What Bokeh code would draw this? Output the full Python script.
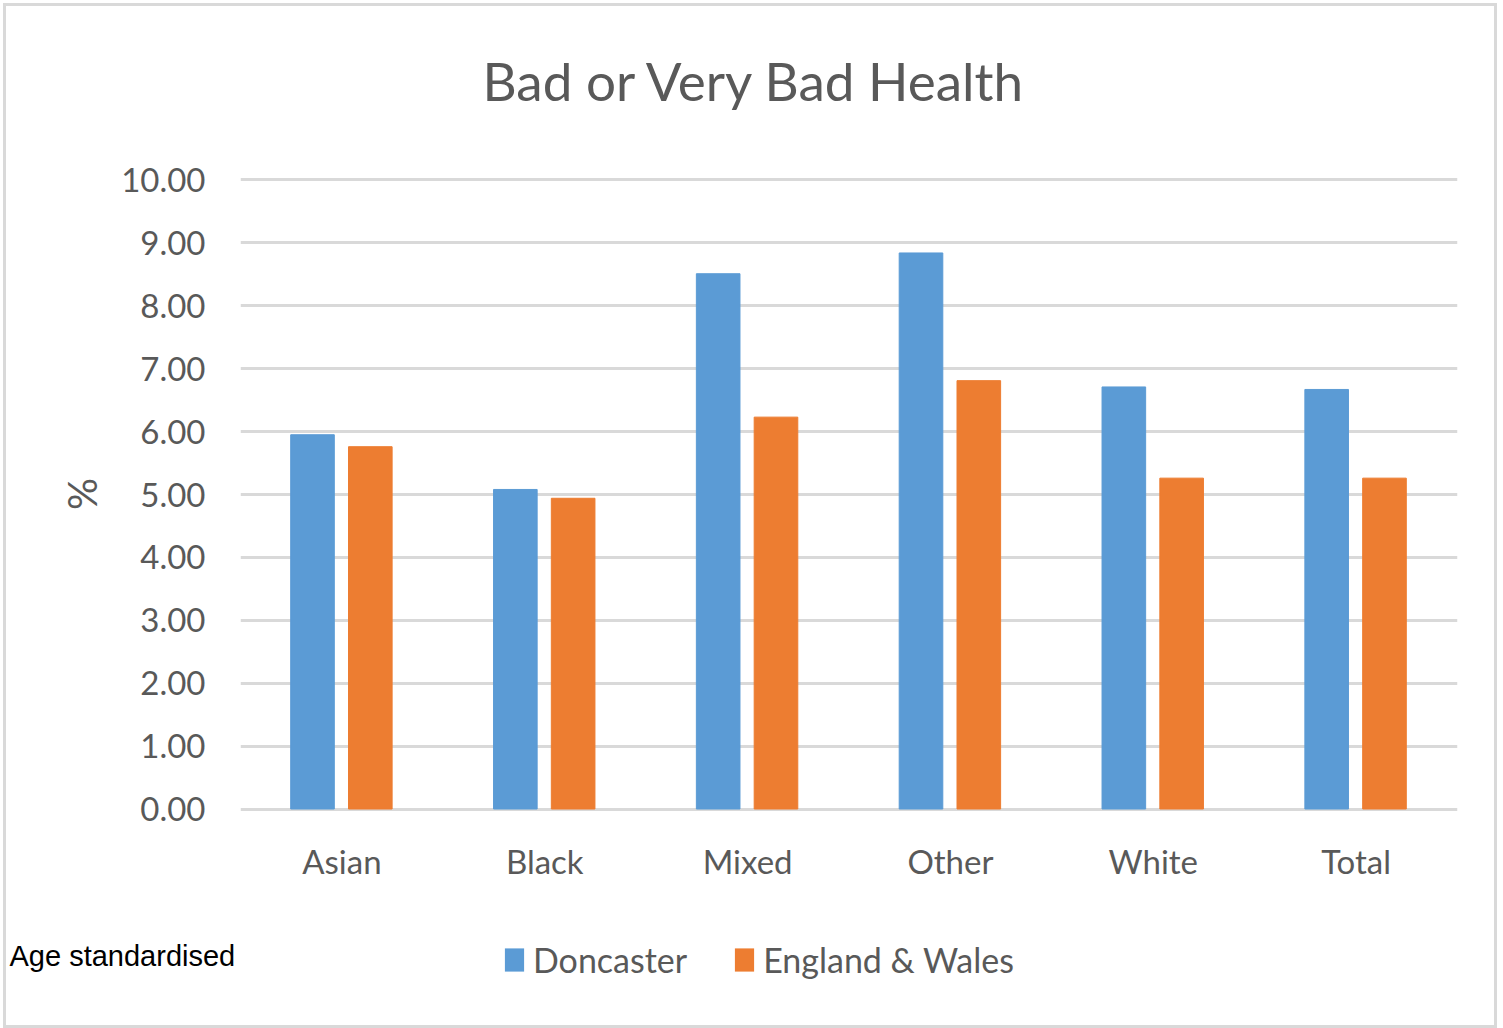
from bokeh.plotting import figure
from bokeh.layouts import column
from bokeh.models import (ColumnDataSource, FactorRange, Range1d, Title, Legend,
                          LegendItem, FixedTicker, NumeralTickFormatter, Label)
from bokeh.transform import dodge
from bokeh.embed import file_html
from bokeh.resources import INLINE

categories = ["Asian", "Black", "Mixed", "Other", "White", "Total"]
doncaster = [5.95, 5.08, 8.51, 8.84, 6.71, 6.67]
england_wales = [5.76, 4.94, 6.23, 6.81, 5.26, 5.26]
series_names = ["Doncaster", "England & Wales"]
y_ticks = [0, 1, 2, 3, 4, 5, 6, 7, 8, 9, 10]
title_text = "Bad or Very Bad Health"
note_text = "Age standardised"

BLUE = "#5B9BD5"
ORANGE = "#ED7D31"
GRAY = "#595959"
GRID = "#d9d9d9"
FONT = "Lato"

source = ColumnDataSource(dict(cat=categories, don=doncaster, ew=england_wales))

# ---------------- main chart ----------------
p = figure(width=1488, height=886, output_backend="svg", toolbar_location=None,
           x_range=FactorRange(*categories, range_padding=0),
           y_range=Range1d(-0.0556, 10.0715),
           min_border_left=234, min_border_right=37,
           min_border_top=169, min_border_bottom=80)
p.frame_align = False
p.outline_line_color = None
p.background_fill_color = "white"
p.border_fill_color = "white"

r1 = p.vbar(x=dodge("cat", -0.145, range=p.x_range), top="don", width=0.215,
            bottom=0, source=source, fill_color=BLUE, line_color=BLUE)
r2 = p.vbar(x=dodge("cat", 0.14, range=p.x_range), top="ew", width=0.215,
            bottom=0, source=source, fill_color=ORANGE, line_color=ORANGE)

p.xgrid.grid_line_color = None
p.ygrid.grid_line_color = GRID
p.ygrid.grid_line_width = 3
p.ygrid.ticker = FixedTicker(ticks=y_ticks)
p.ygrid.level = "underlay"

p.yaxis.ticker = FixedTicker(ticks=y_ticks)
p.yaxis.formatter = NumeralTickFormatter(format="0.00")
p.yaxis.axis_line_color = None
p.yaxis.major_tick_line_color = None
p.yaxis.minor_tick_line_color = None
p.yaxis.major_tick_out = 0
p.yaxis.major_tick_in = 0
p.yaxis.major_label_standoff = 35
p.yaxis.major_label_text_font = FONT
p.yaxis.major_label_text_font_size = "33px"
p.yaxis.major_label_text_color = GRAY
p.yaxis.axis_label = "%"
p.yaxis.axis_label_text_font = FONT
p.yaxis.axis_label_text_font_size = "40px"
p.yaxis.axis_label_text_font_style = "normal"
p.yaxis.axis_label_text_color = GRAY
p.yaxis.axis_label_standoff = 12

p.xaxis.axis_line_color = None
p.xaxis.major_tick_line_color = None
p.xaxis.major_tick_out = 0
p.xaxis.major_tick_in = 0
p.xaxis.major_label_standoff = 28
p.xaxis.major_label_text_font = FONT
p.xaxis.major_label_text_font_size = "33px"
p.xaxis.major_label_text_color = GRAY

# spacer nearest the frame, then the main title
p.add_layout(Title(text=" ", text_font=FONT, text_font_size="40px", standoff=0), "above")
p.add_layout(Title(text=title_text, align="left", offset=242, standoff=28,
                   text_font=FONT, text_font_size="53px", text_font_style="normal",
                   text_color=GRAY), "above")

# ---------------- bottom strip: note + legend ----------------
p2 = figure(width=1488, height=133, output_backend="svg", toolbar_location=None,
            x_range=FactorRange(*categories, range_padding=0), y_range=Range1d(20, 21),
            x_axis_location=None, y_axis_location=None,
            min_border_left=0, min_border_right=0, min_border_top=0, min_border_bottom=0)
p2.frame_align = False
p2.grid.visible = False
p2.outline_line_color = None
p2.background_fill_color = "white"
p2.border_fill_color = "white"

# legend swatch renderers (hidden; only their legend glyphs are shown)
d1 = p2.vbar(x=dodge("cat", -0.145, range=p2.x_range), top="don", width=0.215,
             bottom=0, source=source, fill_color=BLUE, line_color=None, visible=False)
d2 = p2.vbar(x=dodge("cat", 0.14, range=p2.x_range), top="ew", width=0.215,
             bottom=0, source=source, fill_color=ORANGE, line_color=None, visible=False)

p2.add_layout(Label(x=3, y=70, x_units="screen", y_units="screen", text=note_text,
                    text_align="left", text_baseline="alphabetic",
                    text_font="Liberation Sans", text_font_size="29px",
                    text_color="black"))

legend = Legend(items=[LegendItem(label=series_names[0], renderers=[d1]),
                       LegendItem(label=series_names[1], renderers=[d2])],
                location=(496, 45), orientation="horizontal",
                glyph_width=24, glyph_height=29, label_standoff=7, spacing=45,
                padding=0, margin=0, border_line_color=None,
                background_fill_alpha=0, inactive_fill_alpha=0,
                label_text_font=FONT, label_text_font_size="34px",
                label_text_color=GRAY)
p2.add_layout(legend, "center")

layout = column(p, p2, spacing=0,
                styles={"border": "3px solid #d9d9d9", "margin-left": "3px",
                        "margin-top": "3px"})

open("out.html", "w").write(file_html(layout, INLINE))
